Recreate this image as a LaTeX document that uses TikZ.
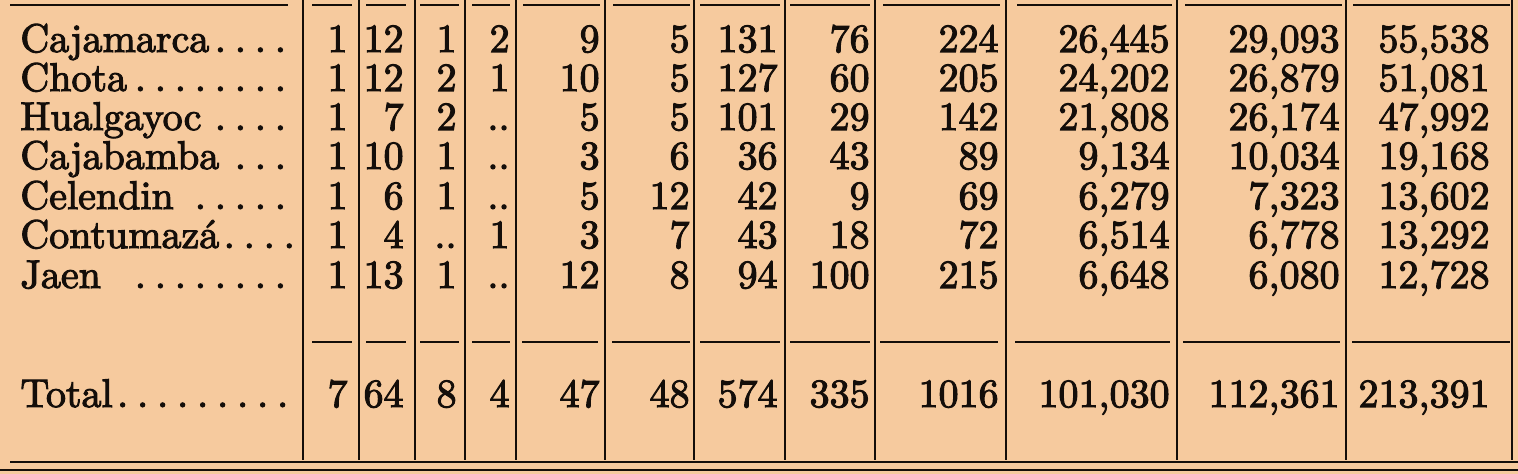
\documentclass[tikz,border=0pt]{standalone}
\usepackage{fontspec}
\newfontfamily\tabfont{lmroman10-regular.otf}[FakeBold=2.6]
\definecolor{paper}{RGB}{246,202,158}
\definecolor{ink}{RGB}{20,14,10}
\newcommand\dt{\hbox to 10pt{\hss.\hss}}
\def\redges{{348,404,457,510,600,690,778,870,999,1170,1340,1490}}
\tikzset{
  cell/.style={anchor=base east, inner sep=0pt, text=ink},
  namecell/.style={anchor=base west, inner sep=0pt, text=ink},
  vline/.style={draw=ink, line width=1pt},
  hrule/.style={draw=ink, line width=1.4pt},
  thinrule/.style={draw=ink, line width=0.6pt}
}
\newcommand\datarow[4]{%
  \node[namecell] (#1n) at (20,#2) {\hbox to 135pt{#3}};
  \foreach \v [count=\j] in {#4} {%
    \pgfmathsetmacro\rx{\redges[\j-1]}%
    \node[cell] (#1c\j) at (\rx,#2) {\v};
  }%
}
\begin{document}
\begin{tikzpicture}[x=0.5pt,y=-0.5pt,
  every node/.append style={font=\tabfont\fontsize{20}{24}\selectfont}]
\fill[paper] (0,0) rectangle (1518,474);
\useasboundingbox (0,0) rectangle (1518,474);
% vertical column lines
\foreach \x in {303,359,415,465,516,605,694,785,875,1006,1177,1346,1512}
  \draw[vline] (\x,0) -- (\x,460);
% top rules
\foreach \a/\b in {10/288,312/352,366/406,420/459,472/510,523/600,613/690,700/780,790/870,883/1000,1017/1172,1185/1342,1353/1510}
  \draw[hrule] (\a,5) -- (\b,5);
% rules above total
\foreach \a/\b in {312/352,366/406,420/459,472/510,522/598,612/690,700/780,790/870,880/998,1015/1170,1183/1340,1352/1510}
  \draw[hrule] (\a,342) -- (\b,342);
% bottom rules
\draw[thinrule] (10,462) -- (1518,462);
\draw[draw=ink, line width=1pt] (0,470) -- (1518,470);
% rows
\datarow{r1}{52}{Cajamarca\hfill\dt\dt\dt\dt}{1,12,1,2,9,5,131,76,224,{26,445},{29,093},{55,538}}
\datarow{r2}{91}{Chota\hfill\dt\dt\dt\dt\dt\dt\dt\dt}{1,12,2,1,10,5,127,60,205,{24,202},{26,879},{51,081}}
\datarow{r3}{130}{Hualgayoc\hfill\dt\dt\dt\dt}{1,7,2,..,5,5,101,29,142,{21,808},{26,174},{47,992}}
\datarow{r4}{169}{Cajabamba\hfill\dt\dt\dt}{1,10,1,..,3,6,36,43,89,{9,134},{10,034},{19,168}}
\datarow{r5}{209}{Celendin\hfill\dt\dt\dt\dt\dt}{1,6,1,..,5,12,42,9,69,{6,279},{7,323},{13,602}}
\datarow{r6}{248}{Contumazá\hfill\dt\dt\dt\dt}{1,4,..,1,3,7,43,18,72,{6,514},{6,778},{13,292}}
\datarow{r7}{288}{Jaen\hfill\dt\dt\dt\dt\dt\dt\dt\dt}{1,13,1,..,12,8,94,100,215,{6,648},{6,080},{12,728}}
\datarow{tot}{407}{Total\hfill\dt\dt\dt\dt\dt\dt\dt\dt\dt}{7,64,8,4,47,48,574,335,1016,{101,030},{112,361},{213,391}}
\end{tikzpicture}
\end{document}
